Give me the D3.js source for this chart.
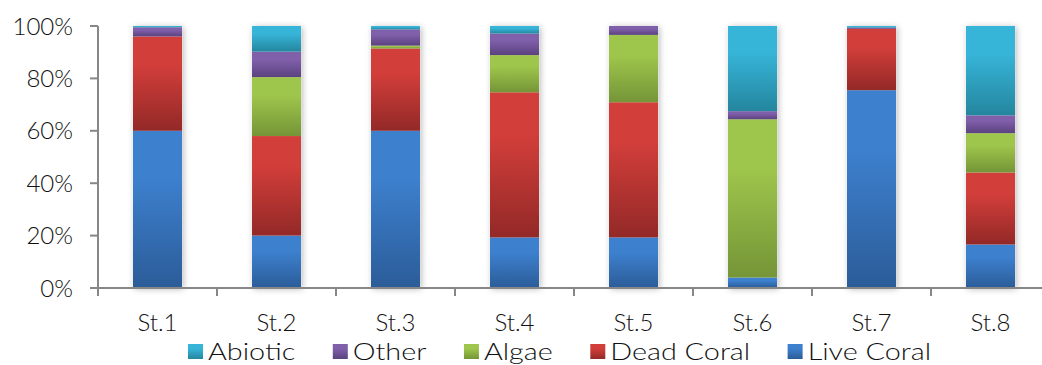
<!DOCTYPE html>
<html><head><meta charset="utf-8">
<script src="https://cdn.jsdelivr.net/npm/d3@7"></script>
<style>
html,body{margin:0;padding:0;background:#fff;}
svg{display:block;font-family:"Lato","DejaVu Sans",sans-serif;font-weight:300;}
</style></head>
<body><svg id="chart" width="1042" height="365"></svg>
<script>
// ---- data ----
const stations = ["St.1","St.2","St.3","St.4","St.5","St.6","St.7","St.8"];
const liveCoral = [60, 20, 60, 19.3, 19.3, 4, 75.5, 16.6];
const deadCoral = [36, 38, 31.4, 55.4, 51.6, 0, 23.4, 27.5];
const algae     = [0, 22.5, 1.1, 14.2, 25.7, 60.4, 0, 15];
const other     = [3.5, 9.7, 6.2, 8.2, 3.4, 3.1, 0.5, 6.8];
const abiotic   = [0.5, 9.8, 1.3, 2.9, 0, 32.5, 0.6, 34.1];
const seriesNames = ["Live Coral","Dead Coral","Algae","Other","Abiotic"];
const legendOrder = ["Abiotic","Other","Algae","Dead Coral","Live Coral"];
const yTicks = [0, 0.2, 0.4, 0.6, 0.8, 1.0];

(function () {
const seriesValues = {"Live Coral": liveCoral, "Dead Coral": deadCoral, "Algae": algae, "Other": other, "Abiotic": abiotic};
const colors = {
  "Live Coral": ["#3d80ce", "#2b5c98"],
  "Dead Coral": ["#d23e3a", "#932927"],
  "Algae":      ["#9fc64c", "#759537"],
  "Other":      ["#8060ab", "#5b427f"],
  "Abiotic":    ["#37b5d9", "#24869e"]
};

const rows = stations.map((s, i) => {
  const r = {station: s};
  seriesNames.forEach(n => r[n] = seriesValues[n][i]);
  return r;
});

const svg = d3.select("#chart");
const mLeft = 98, step = 119, mTop = 26, mBottom = 288;
const x = d3.scaleBand().domain(stations).range([mLeft, mLeft + step * stations.length]).padding(0);
const y = d3.scaleLinear().domain([0, 1]).range([mBottom, mTop]);
const barW = x.bandwidth() * 0.412;

const defs = svg.append("defs");
seriesNames.forEach((n, i) => {
  const g = defs.append("linearGradient").attr("id", "grad" + i)
    .attr("x1", 0).attr("y1", 0).attr("x2", 0).attr("y2", 1);
  g.append("stop").attr("offset", "0%").attr("stop-color", colors[n][0]);
  g.append("stop").attr("offset", "30%").attr("stop-color", colors[n][0]);
  g.append("stop").attr("offset", "100%").attr("stop-color", colors[n][1]);
});
const f = defs.append("filter").attr("id", "shadow").attr("x", "-30%").attr("y", "-10%").attr("width", "160%").attr("height", "120%");
f.append("feDropShadow").attr("dx", 1.5).attr("dy", 1).attr("stdDeviation", 3)
  .attr("flood-color", "#000").attr("flood-opacity", 0.28);

const stack = d3.stack().keys(seriesNames).offset(d3.stackOffsetExpand);
const stacked = stack(rows);

// bar shadows (whole bar)
svg.append("g").selectAll("rect").data(stations).join("rect")
  .attr("x", d => x(d) + (x.bandwidth() - barW) / 2)
  .attr("y", y(1)).attr("width", barW).attr("height", y(0) - y(1))
  .attr("fill", "#fff").attr("filter", "url(#shadow)");

svg.append("g").selectAll("g").data(stacked).join("g")
  .attr("fill", (d, i) => "url(#grad" + i + ")")
  .selectAll("rect").data(d => d.filter(p => p[1] - p[0] > 0)).join("rect")
  .attr("x", d => x(d.data.station) + (x.bandwidth() - barW) / 2)
  .attr("y", d => y(d[1]))
  .attr("width", barW)
  .attr("height", d => y(d[0]) - y(d[1]));

// axes
const axisColor = "#878787";
const fs = 24;
const txt = "#111";
// y axis
const ya = svg.append("g");
ya.append("line").attr("x1", mLeft).attr("x2", mLeft).attr("y1", mTop).attr("y2", mBottom)
  .attr("stroke", axisColor).attr("stroke-width", 2);
ya.selectAll("line.t").data(yTicks).join("line").attr("class", "t")
  .attr("x1", mLeft - 8).attr("x2", mLeft).attr("y1", d => y(d)).attr("y2", d => y(d))
  .attr("stroke", axisColor).attr("stroke-width", 2);
ya.selectAll("text").data(yTicks).join("text")
  .attr("x", mLeft - 25).attr("y", d => y(d)).attr("dy", "0.36em")
  .attr("text-anchor", "end").attr("font-size", fs).attr("fill", txt)
  .text(d => d3.format(".0%")(d));

// x axis
const xa = svg.append("g");
xa.append("line").attr("x1", mLeft - 1).attr("x2", mLeft + step * stations.length).attr("y1", mBottom).attr("y2", mBottom)
  .attr("stroke", axisColor).attr("stroke-width", 2);
xa.selectAll("line.t").data(d3.range(stations.length + 1)).join("line").attr("class", "t")
  .attr("x1", i => mLeft + i * step).attr("x2", i => mLeft + i * step)
  .attr("y1", mBottom).attr("y2", mBottom + 8)
  .attr("stroke", axisColor).attr("stroke-width", 2);
xa.selectAll("text").data(stations).join("text")
  .attr("x", d => x(d) + x.bandwidth() / 2).attr("y", 331)
  .attr("text-anchor", "middle").attr("font-size", fs).attr("fill", txt)
  .text(d => d);

// legend: spread items between swatch start and last text end
const legStart = 188, legEnd = 931, stretch = 1.2;
const lg = svg.append("g");
const items = lg.selectAll("g").data(legendOrder).join("g");
items.append("rect").attr("width", 15).attr("height", 15).attr("y", 344)
  .attr("fill", d => "url(#grad" + seriesNames.indexOf(d) + ")");
items.append("text").attr("x", 20).attr("y", 360).attr("font-size", fs).attr("fill", txt).text(d => d);
const widths = [];
items.select("text").each(function() {
  const w = this.getComputedTextLength() * stretch;
  d3.select(this).attr("textLength", w).attr("lengthAdjust", "spacingAndGlyphs");
  widths.push(20 + w);
});
const gap = (legEnd - legStart - d3.sum(widths)) / (widths.length - 1);
let cx = legStart; const pos = [];
widths.forEach(w => { pos.push(cx); cx += w + gap; });
items.attr("transform", (d, i) => `translate(${pos[i]},0)`);
})();
</script>
</body></html>
